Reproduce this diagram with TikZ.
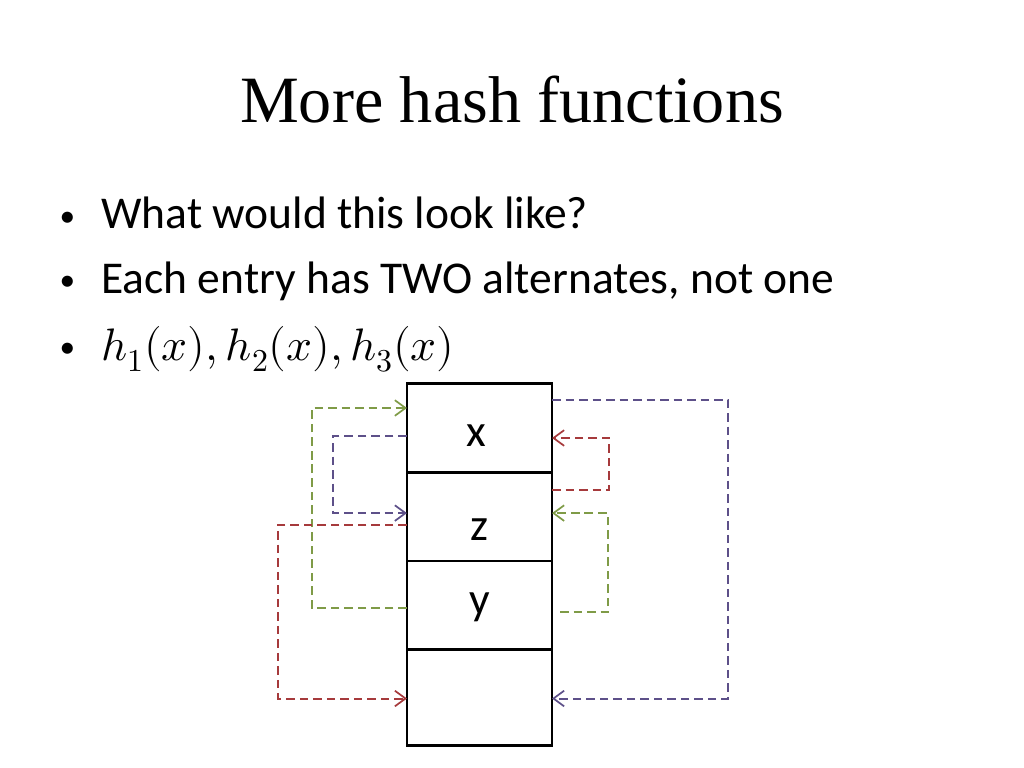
\documentclass[tikz,border=0pt]{standalone}
\usepackage{amsmath}
\usepackage{unicode-math}
\setmainfont{Carlito}
\setmathfont{Latin Modern Math}
\newfontfamily\titlefont{Liberation Serif}
\usetikzlibrary{arrows.meta,positioning,calc}
\definecolor{hashGreen}{HTML}{7F9B47}
\definecolor{hashPurple}{HTML}{5D5089}
\definecolor{hashRed}{HTML}{A63A3C}

\begin{document}
\begin{tikzpicture}[x=0.703125pt,y=-0.703125pt,font=\fontsize{32}{38}\selectfont,
    cell/.style={draw,line width=1.8pt,minimum width=102pt,minimum height=62.3pt,
                 inner sep=0pt,outer sep=0pt},
    link/.style={line width=1.4pt,dash pattern=on 6pt off 3.5pt,
                 -{Straight Barb[length=7.5pt,width=11pt,line width=1.2pt]}}]
  \useasboundingbox (0,0) rectangle (1024,768);

  \node[font=\titlefont\fontsize{46.5}{52}\selectfont] (title) at (512,100) {More hash functions};

  \node[anchor=base west,inner sep=0pt] (b1) at (101,229) {What would this look like?};
  \node[anchor=base west,inner sep=0pt] (b2) at (101,293) {Each entry has TWO alternates, not one};
  \node[anchor=base west,inner sep=0pt] (b3) at (101,360) {$h_1(x),h_2(x),h_3(x)$};
  \foreach \n in {1,2,3}
    \node[anchor=base east,inner sep=0pt,font=\fontsize{22}{26}\selectfont] (dot\n)
      at ([xshift=-18pt,yshift=2pt]b\n.base west) {•};

  % table cells
  \node[cell] (cellx) at (479.5,428) {};
  \node[cell,below=0pt of cellx] (cellz) {};
  \node[cell,below=0pt of cellz] (celly) {};
  \node[cell,below=0pt of celly,minimum height=67.5pt] (celle) {};
  \node (lblx) at ($(cellx.center)+(-3,8)$) {x};
  \node (lblz) at ($(cellz.center)+(0,13)$) {z};
  \node (lbly) at ($(celly.center)+(0,2)$) {y};

  % left side
  \draw[link,hashGreen] ($(celly.west)+(0,2.5)$) -- ++(-95,0) |- ($(cellx.west)+(0,-20)$);
  \draw[link,hashPurple] ($(cellx.west)+(0,8)$) -- ++(-74,0) |- ($(cellz.west)+(0,-3.5)$);
  \draw[link,hashRed] ($(cellz.west)+(0,8.5)$) -- ++(-129,0) |- ($(celle.west)+(0,1)$);
  % right side
  \draw[link,hashPurple] ($(cellx.east)+(0,-28)$) -- ++(176,0) |- ($(celle.east)+(0,1)$);
  \draw[link,hashRed] ($(cellz.east)+(0,-26.5)$) -- ++(57,0) |- ($(cellx.east)+(0,10)$);
  \draw[link,hashGreen] ($(celly.east)+(8,7)$) -- ++(48,0) |- ($(cellz.east)+(0,-3.5)$);
\end{tikzpicture}
\end{document}
